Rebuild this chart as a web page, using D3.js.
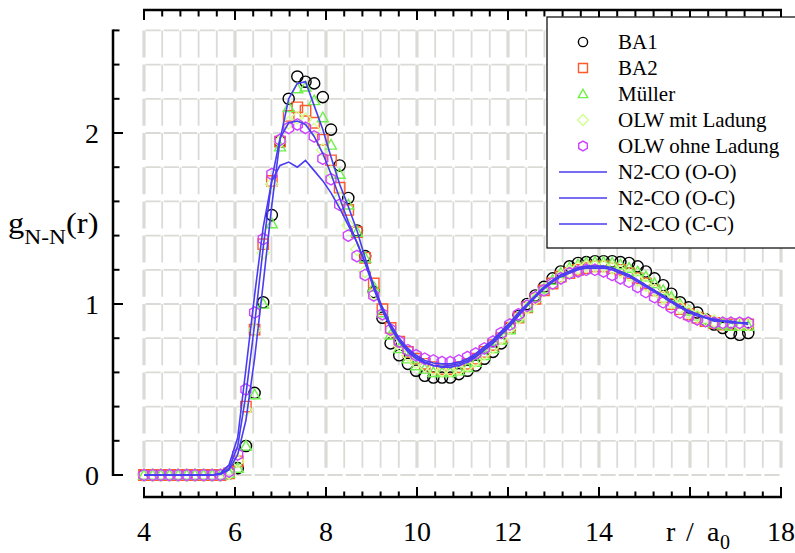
<!DOCTYPE html>
<html>
<head>
<meta charset="utf-8">
<script src="https://cdn.jsdelivr.net/npm/d3@7"></script>
<style>
  body { margin: 0; background: #fff; }
  svg { display: block; }
</style>
</head>
<body>
<div class="chart"></div>
<script>
// r / a0 grid shared by all series
const r_values = [4.00, 4.19, 4.37, 4.56, 4.75, 4.94, 5.12, 5.31, 5.50, 5.68,
    5.87, 6.06, 6.24, 6.43, 6.62, 6.81, 6.99, 7.18, 7.37, 7.55,
    7.74, 7.93, 8.11, 8.30, 8.49, 8.68, 8.86, 9.05, 9.24, 9.42,
    9.61, 9.80, 9.98, 10.17, 10.36, 10.55, 10.73, 10.92, 11.11, 11.29,
    11.48, 11.67, 11.85, 12.04, 12.23, 12.42, 12.60, 12.79, 12.98, 13.16,
    13.35, 13.54, 13.72, 13.91, 14.10, 14.29, 14.47, 14.66, 14.85, 15.03,
    15.22, 15.41, 15.59, 15.78, 15.97, 16.16, 16.34, 16.53, 16.72, 16.90,
    17.09, 17.28]

const g_BA1 = [0, 0, 0, 0, 0, 0, 0, 0, 0, 0,
    0.01, 0.04, 0.17, 0.48, 1.01, 1.52, 1.95, 2.20, 2.33, 2.30,
    2.29, 2.21, 2.02, 1.81, 1.62, 1.43, 1.28, 1.07, 0.92, 0.77,
    0.70, 0.65, 0.61, 0.58, 0.57, 0.57, 0.57, 0.59, 0.61, 0.64,
    0.68, 0.72, 0.77, 0.86, 0.93, 1.00, 1.05, 1.10, 1.15, 1.19,
    1.22, 1.24, 1.245, 1.25, 1.25, 1.25, 1.245, 1.24, 1.22, 1.19,
    1.15, 1.11, 1.06, 1.01, 0.98, 0.95, 0.91, 0.88, 0.86, 0.83,
    0.82, 0.83]

const g_BA2 = [0, 0, 0, 0, 0, 0, 0, 0, 0, 0,
    0.01, 0.08, 0.40, 0.85, 1.35, 1.72, 1.95, 2.10, 2.15, 2.13,
    2.06, 1.96, 1.84, 1.68, 1.55, 1.42, 1.27, 1.12, 0.97, 0.86,
    0.78, 0.72, 0.68, 0.65, 0.63, 0.62, 0.62, 0.63, 0.65, 0.68,
    0.72, 0.76, 0.80, 0.86, 0.92, 0.98, 1.03, 1.08, 1.12, 1.16,
    1.18, 1.20, 1.21, 1.22, 1.22, 1.21, 1.20, 1.18, 1.15, 1.12,
    1.08, 1.04, 1.00, 0.97, 0.94, 0.92, 0.90, 0.89, 0.88, 0.88,
    0.88, 0.88]

const g_Mueller = [0, 0, 0, 0, 0, 0, 0, 0, 0, 0,
    0.01, 0.04, 0.17, 0.47, 1.00, 1.47, 1.92, 2.15, 2.26, 2.27,
    2.19, 2.09, 1.93, 1.76, 1.58, 1.42, 1.27, 1.10, 0.95, 0.82,
    0.74, 0.68, 0.64, 0.62, 0.60, 0.60, 0.60, 0.61, 0.63, 0.66,
    0.70, 0.74, 0.79, 0.85, 0.92, 0.98, 1.04, 1.09, 1.14, 1.18,
    1.21, 1.23, 1.24, 1.245, 1.245, 1.24, 1.23, 1.21, 1.19, 1.16,
    1.12, 1.08, 1.04, 1.00, 0.96, 0.93, 0.91, 0.89, 0.88, 0.87,
    0.87, 0.87]

const g_OLW_mit = [0, 0, 0, 0, 0, 0, 0, 0, 0, 0,
    0.01, 0.08, 0.38, 0.85, 1.30, 1.70, 1.95, 2.06, 2.09, 2.08,
    2.02, 1.90, 1.77, 1.62, 1.46, 1.32, 1.19, 1.06, 0.94, 0.84,
    0.76, 0.70, 0.66, 0.64, 0.62, 0.61, 0.61, 0.62, 0.64, 0.67,
    0.71, 0.75, 0.80, 0.86, 0.92, 0.98, 1.03, 1.08, 1.12, 1.16,
    1.19, 1.21, 1.22, 1.22, 1.22, 1.21, 1.19, 1.17, 1.14, 1.11,
    1.08, 1.04, 1.01, 0.98, 0.95, 0.93, 0.91, 0.90, 0.89, 0.89,
    0.88, 0.88]

const g_OLW_ohne = [0, 0, 0, 0, 0, 0, 0, 0, 0, 0,
    0.02, 0.12, 0.50, 0.95, 1.38, 1.76, 1.96, 2.03, 2.05, 2.03,
    1.98, 1.85, 1.73, 1.58, 1.40, 1.28, 1.17, 1.05, 0.94, 0.85,
    0.78, 0.73, 0.70, 0.68, 0.67, 0.66, 0.66, 0.67, 0.69, 0.71,
    0.74, 0.78, 0.83, 0.88, 0.94, 0.99, 1.04, 1.08, 1.12, 1.15,
    1.18, 1.19, 1.20, 1.20, 1.19, 1.17, 1.15, 1.13, 1.10, 1.07,
    1.04, 1.01, 0.98, 0.95, 0.93, 0.91, 0.90, 0.89, 0.89, 0.89,
    0.89, 0.89]

const g_N2CO_OO = [0, 0, 0, 0, 0, 0, 0, 0, 0, 0.005,
    0.03, 0.12, 0.32, 0.68, 1.12, 1.58, 1.96, 2.20, 2.29, 2.30,
    2.16, 2.02, 1.86, 1.70, 1.57, 1.43, 1.27, 1.10, 0.97, 0.87,
    0.79, 0.73, 0.69, 0.66, 0.64, 0.63, 0.63, 0.64, 0.66, 0.69,
    0.73, 0.77, 0.82, 0.87, 0.93, 0.99, 1.04, 1.09, 1.13, 1.16,
    1.18, 1.20, 1.21, 1.21, 1.21, 1.20, 1.18, 1.16, 1.13, 1.10,
    1.07, 1.04, 1.01, 0.98, 0.96, 0.94, 0.92, 0.91, 0.90, 0.90,
    0.89, 0.89]

const g_N2CO_OC = [0, 0, 0, 0, 0, 0, 0, 0, 0, 0.01,
    0.06, 0.22, 0.62, 1.05, 1.45, 1.72, 1.81, 1.83, 1.80, 1.84,
    1.78, 1.72, 1.65, 1.56, 1.46, 1.36, 1.24, 1.11, 0.98, 0.88,
    0.80, 0.74, 0.70, 0.67, 0.655, 0.65, 0.65, 0.66, 0.68, 0.71,
    0.75, 0.79, 0.84, 0.89, 0.95, 1.00, 1.05, 1.10, 1.14, 1.17,
    1.19, 1.21, 1.22, 1.22, 1.22, 1.21, 1.19, 1.17, 1.14, 1.11,
    1.08, 1.05, 1.02, 0.99, 0.96, 0.94, 0.92, 0.91, 0.90, 0.89,
    0.89, 0.89]

const g_N2CO_CC = [0, 0, 0, 0, 0, 0, 0, 0, 0, 0.005,
    0.04, 0.17, 0.47, 0.88, 1.33, 1.73, 1.97, 2.06, 2.07, 2.05,
    1.98, 1.88, 1.76, 1.62, 1.48, 1.36, 1.24, 1.09, 0.96, 0.86,
    0.78, 0.72, 0.68, 0.655, 0.64, 0.635, 0.64, 0.65, 0.67, 0.70,
    0.74, 0.78, 0.83, 0.88, 0.94, 0.99, 1.04, 1.09, 1.13, 1.17,
    1.19, 1.21, 1.22, 1.22, 1.22, 1.21, 1.19, 1.17, 1.14, 1.11,
    1.08, 1.04, 1.01, 0.98, 0.95, 0.93, 0.92, 0.90, 0.90, 0.89,
    0.89, 0.88]

const x_labels = [4, 6, 8, 10, 12, 14, 18]
const y_labels = [0, 1, 2]

const marker_series = [
    { name: "BA1", values: g_BA1, symbol: "circle", color: "#000000" },
    { name: "BA2", values: g_BA2, symbol: "square", color: "#ff5a2a" },
    { name: "Müller", values: g_Mueller, symbol: "triangle", color: "#6cf04a" },
    { name: "OLW mit Ladung", values: g_OLW_mit, symbol: "diamond", color: "#d2ff90" },
    { name: "OLW ohne Ladung", values: g_OLW_ohne, symbol: "hexagon", color: "#cc44ff" },
]
const line_series = [
    { name: "N2-CO (O-O)", values: g_N2CO_OO },
    { name: "N2-CO (O-C)", values: g_N2CO_OC },
    { name: "N2-CO (C-C)", values: g_N2CO_CC },
]
const line_color = "#4a3cf2"
const serif = "Liberation Serif"


function drawChart() {

    let dimensions = {
        width: 795,
        height: 553,
        plotLeft: 144,
        plotRight: 781,
        plotTop: 30.4,
        plotBottom: 475,
        bottomAxisY: 497,
        topAxisY: 10,
        leftAxisX: 113,
    }

    const xScale = d3.scaleLinear()
        .domain([4, 18])
        .range([dimensions.plotLeft, dimensions.plotRight])

    const yScale = d3.scaleLinear()
        .domain([0, 2.6])
        .range([dimensions.plotBottom, dimensions.plotTop])

    const wrapper = d3.select(".chart")
        .append("svg")
        .attr("width", dimensions.width)
        .attr("height", dimensions.height)

    // grid (dashed, grey)
    const xGrid = d3.range(0, 36).map(i => 4 + i * 0.4)
    const yGrid = d3.range(0, 14).map(i => i * 0.2)

    const grid = wrapper.append("g")

    grid.selectAll(".hgrid")
        .data(yGrid)
        .join("line")
        .attr("x1", dimensions.plotLeft)
        .attr("x2", dimensions.plotRight)
        .attr("y1", d => yScale(d))
        .attr("y2", d => yScale(d))
        .attr("stroke", "#dadad6")
        .attr("stroke-width", 1.8)
        .attr("stroke-dasharray", "15.2,3")
        .attr("stroke-dashoffset", -1.5)

    grid.selectAll(".vgrid")
        .data(xGrid)
        .join("line")
        .attr("x1", d => xScale(d))
        .attr("x2", d => xScale(d))
        .attr("y1", dimensions.plotTop)
        .attr("y2", dimensions.plotBottom)
        .attr("stroke", "#dadad6")
        .attr("stroke-width", (d, i) => i % 5 == 0 ? 3.2 : 1.8)
        .attr("stroke-dasharray", "27,7.2")
        .attr("stroke-dashoffset", 0)

    // axes
    const axes = wrapper.append("g")
        .attr("stroke", "#000")

    const xMinor = d3.range(0, 36).map(i => 4 + i * 0.4)
    const yMinor = d3.range(0, 14).map(i => i * 0.2)

    axes.append("line")
        .attr("x1", dimensions.plotLeft - 1)
        .attr("x2", dimensions.plotRight + 1)
        .attr("y1", dimensions.bottomAxisY)
        .attr("y2", dimensions.bottomAxisY)
        .attr("stroke-width", 2.5)

    axes.append("line")
        .attr("x1", dimensions.plotLeft - 1)
        .attr("x2", dimensions.plotRight + 1)
        .attr("y1", dimensions.topAxisY)
        .attr("y2", dimensions.topAxisY)
        .attr("stroke-width", 2.5)

    axes.append("line")
        .attr("x1", dimensions.leftAxisX)
        .attr("x2", dimensions.leftAxisX)
        .attr("y1", yScale(2.6) - 1)
        .attr("y2", yScale(0) + 1)
        .attr("stroke-width", 2.5)

    axes.selectAll(".xtick_bottom")
        .data(xMinor)
        .join("line")
        .attr("x1", d => xScale(d))
        .attr("x2", d => xScale(d))
        .attr("y1", dimensions.bottomAxisY)
        .attr("y2", (d, i) => dimensions.bottomAxisY - (i % 5 == 0 ? 10 : 5.5))
        .attr("stroke-width", 2)

    axes.selectAll(".xtick_top")
        .data(xMinor)
        .join("line")
        .attr("x1", d => xScale(d))
        .attr("x2", d => xScale(d))
        .attr("y1", dimensions.topAxisY)
        .attr("y2", (d, i) => dimensions.topAxisY + (i % 5 == 0 ? 10 : 6.5))
        .attr("stroke-width", 2)

    axes.selectAll(".ytick")
        .data(yMinor)
        .join("line")
        .attr("x1", dimensions.leftAxisX)
        .attr("x2", (d, i) => dimensions.leftAxisX + (i % 5 == 0 ? 10 : 6.5))
        .attr("y1", d => yScale(d))
        .attr("y2", d => yScale(d))
        .attr("stroke-width", 2)

    // tick labels
    wrapper.selectAll(".xlabel")
        .data(x_labels)
        .join("text")
        .attr("x", d => xScale(d))
        .attr("y", 541)
        .attr("text-anchor", "middle")
        .attr("font-family", serif)
        .attr("font-size", 28)
        .text(d => d)

    wrapper.selectAll(".ylabel")
        .data(y_labels)
        .join("text")
        .attr("x", 99)
        .attr("y", d => yScale(d) + 9.5)
        .attr("text-anchor", "end")
        .attr("font-family", serif)
        .attr("font-size", 28)
        .text(d => d)

    // axis titles
    const xTitle = wrapper.append("text")
        .attr("y", 541)
        .attr("font-family", serif)
        .attr("font-size", 28)
    xTitle.append("tspan").attr("x", 666).text("r")
    xTitle.append("tspan").attr("x", 686).text("/")
    xTitle.append("tspan").attr("x", 707).text("a")
    xTitle.append("tspan").attr("x", 720).attr("dy", 8).attr("font-size", 20).text("0")

    const yTitle = wrapper.append("text")
        .attr("transform", "translate(8,233) scale(1.12,1)")
        .attr("font-family", serif)
        .attr("font-size", 29)
    yTitle.append("tspan").text("g")
    yTitle.append("tspan").attr("dy", 11).attr("font-size", 21).text("N-N")
    yTitle.append("tspan").attr("dy", -11).text("(r)")

    // marker shapes
    function symbolPath(type, s) {
        if (type == "square") return `M${-s},${-s}H${s}V${s}H${-s}Z`
        if (type == "triangle") return `M0,${-s * 1.05}L${s * 1.05},${s * 0.8}L${-s * 1.05},${s * 0.8}Z`
        if (type == "diamond") return `M0,${-s * 1.2}L${s * 1.2},0L0,${s * 1.2}L${-s * 1.2},0Z`
        if (type == "hexagon") {
            const pts = d3.range(6).map(i => {
                const a = Math.PI / 6 + i * Math.PI / 3
                return [s * 1.1 * Math.cos(a), s * 1.1 * Math.sin(a)]
            })
            return "M" + pts.map(p => p.join(",")).join("L") + "Z"
        }
        return null
    }

    const bounds = wrapper.append("g")

    marker_series.forEach(series => {
        const pts = series.values.map((v, i) => [r_values[i], v])
        const g = bounds.append("g")
        if (series.symbol == "circle") {
            g.selectAll("circle")
                .data(pts)
                .join("circle")
                .attr("cx", d => xScale(d[0]))
                .attr("cy", d => yScale(d[1]))
                .attr("r", 5.6)
                .attr("fill", "none")
                .attr("stroke", series.color)
                .attr("stroke-width", 1.4)
        } else {
            g.selectAll("path")
                .data(pts)
                .join("path")
                .attr("d", symbolPath(series.symbol, 5.2))
                .attr("transform", d => `translate(${xScale(d[0])},${yScale(d[1])})`)
                .attr("fill", "none")
                .attr("stroke", series.color)
                .attr("stroke-width", 1.4)
        }
    })

    const lineGenerator = d3.line()
        .x((d, i) => xScale(r_values[i]))
        .y(d => yScale(d))

    bounds.selectAll(".n2co")
        .data(line_series)
        .join("path")
        .attr("d", d => lineGenerator(d.values))
        .attr("fill", "none")
        .attr("stroke", line_color)
        .attr("stroke-width", 1.6)

    // legend
    const legend = wrapper.append("g")

    legend.append("rect")
        .attr("x", 547)
        .attr("y", 17)
        .attr("width", 260)
        .attr("height", 231)
        .attr("fill", "#fff")
        .attr("stroke", "#000")
        .attr("stroke-width", 1.2)

    const rowY = i => 42 + i * 26

    marker_series.forEach((series, i) => {
        if (series.symbol == "circle") {
            legend.append("circle")
                .attr("cx", 583)
                .attr("cy", rowY(i))
                .attr("r", 4.6)
                .attr("fill", "none")
                .attr("stroke", series.color)
                .attr("stroke-width", 1.4)
        } else {
            legend.append("path")
                .attr("d", symbolPath(series.symbol, 4.5))
                .attr("transform", `translate(583,${rowY(i)})`)
                .attr("fill", "none")
                .attr("stroke", series.color)
                .attr("stroke-width", 1.4)
        }
        legend.append("text")
            .attr("x", 618)
            .attr("y", rowY(i) + 6.5)
            .attr("font-family", serif)
            .attr("font-size", 21)
            .text(series.name)
    })

    line_series.forEach((series, j) => {
        const i = j + marker_series.length
        legend.append("line")
            .attr("x1", 559)
            .attr("x2", 607)
            .attr("y1", rowY(i))
            .attr("y2", rowY(i))
            .attr("stroke", line_color)
            .attr("stroke-width", 1.6)
        legend.append("text")
            .attr("x", 618)
            .attr("y", rowY(i) + 6.5)
            .attr("font-family", serif)
            .attr("font-size", 21)
            .text(series.name)
    })
}

drawChart()
</script>
</body>
</html>
